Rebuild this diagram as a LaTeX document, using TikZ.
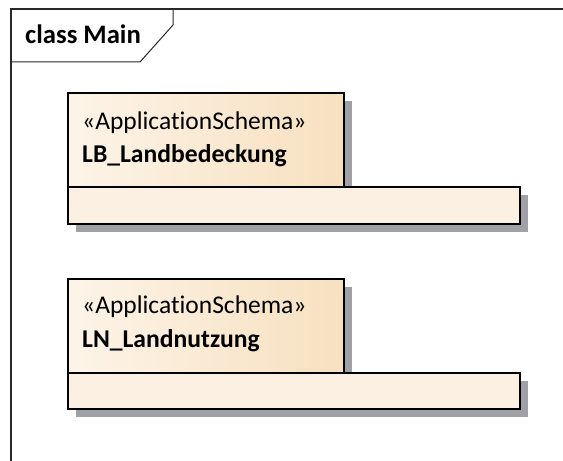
\documentclass[tikz,border=0pt]{standalone}
\usepackage{fontspec}
\setmainfont[Ligatures=NoCommon]{Carlito}
\definecolor{tabL}{RGB}{253,244,232}
\definecolor{tabR}{RGB}{247,224,191}
\definecolor{bodyc}{RGB}{251,240,226}
\definecolor{shadowc}{RGB}{160,161,166}
\definecolor{framec}{RGB}{40,40,40}
\tikzset{
  pkgline/.style={draw=black, line width=2bp},
  shad/.style={fill=shadowc},
  tabfill/.style={left color=tabL, right color=tabR},
  bodyfill/.style={fill=bodyc},
  stereo/.style={anchor=base west, inner sep=0pt, font=\fontsize{25.6}{28}\selectfont},
  pname/.style={anchor=base west, inner sep=0pt, font=\fontsize{25.7}{28}\selectfont\bfseries},
}
\begin{document}
\begin{tikzpicture}[x=1bp, y=-1bp]
\useasboundingbox (0,0) rectangle (563,461);
\fill[white] (0,0) rectangle (563,461);
% frame
\draw[framec, line width=1.5bp] (563,9) -- (11,9) -- (11,461);
\draw[framec, line width=1bp] (11,62) -- (140,62) -- (173,25) -- (173,9);
\node[anchor=base west, inner sep=0pt, font=\fontsize{26.8}{28}\selectfont\bfseries] (title) at (25,44) {class Main};
% package 1
\fill[shad] (76,101) rectangle (352,195);
\fill[shad] (76,195) rectangle (528,232);
\shade[tabfill] (68,93) rectangle (344,187);
\draw[pkgline] (68,93) rectangle (344,187);
\fill[bodyfill] (68,187) rectangle (520,224);
\draw[pkgline] (68,187) rectangle (520,224);
\node[stereo] (s1) at (82,130) {«ApplicationSchema»};
\node[pname] (n1) at (82,163) {LB\_Landbedeckung};
% package 2
\fill[shad] (76,287) rectangle (352,381);
\fill[shad] (76,381) rectangle (528,417);
\shade[tabfill] (68,279) rectangle (344,373);
\draw[pkgline] (68,279) rectangle (344,373);
\fill[bodyfill] (68,373) rectangle (520,409);
\draw[pkgline] (68,373) rectangle (520,409);
\node[stereo] (s2) at (82,313) {«ApplicationSchema»};
\node[pname] (n2) at (82,347) {LN\_Landnutzung};
\end{tikzpicture}
\end{document}
